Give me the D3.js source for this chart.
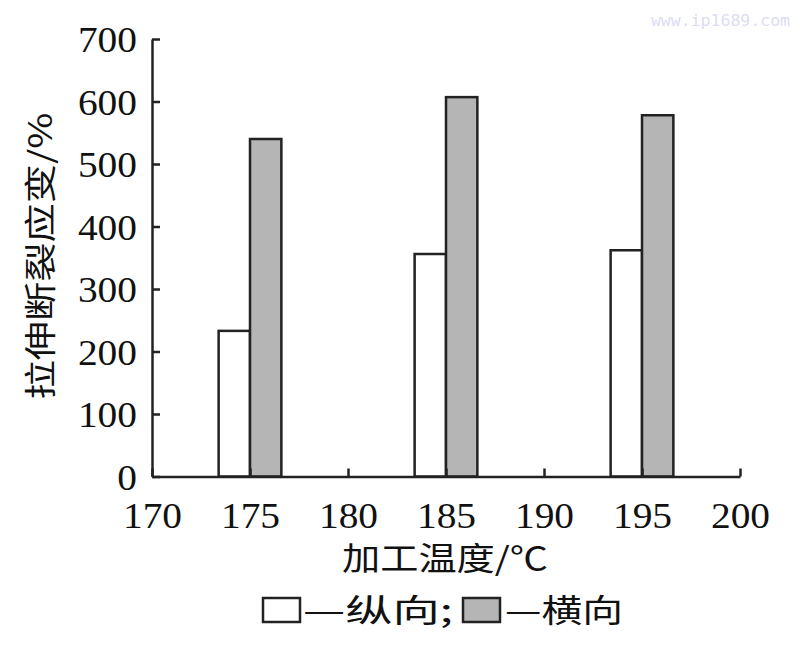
<!DOCTYPE html>
<html><head><meta charset="utf-8">
<script src="https://cdn.jsdelivr.net/npm/d3@7"></script>
<style>body{margin:0;background:#fff;} svg{display:block;}</style>
</head><body>
<svg id="c" width="800" height="651"></svg>
<script>
const temps = [175, 185, 195];
const longitudinal = [233, 356, 362];   // 纵向
const transverse = [540, 607, 578];     // 横向
const xTicks = [170, 175, 180, 185, 190, 195, 200];
const yTicks = [0, 100, 200, 300, 400, 500, 600, 700];
const seriesNames = ["纵向", "横向"];
const barWidthUnits = 1.6;

const svg = d3.select("#c");
const x = d3.scaleLinear().domain([170, 200]).range([152, 740]);
const y = d3.scaleLinear().domain([0, 700]).range([476.5, 39]);
const serif = "'Liberation Serif','Times New Roman',serif";
const cjk = "'Noto Sans CJK SC','Liberation Serif',serif";
const ink = "#222";

// watermark
svg.append("text").attr("x", 790).attr("y", 26).attr("text-anchor", "end")
  .attr("font-family", "'DejaVu Sans Mono',monospace").attr("font-size", 16.5)
  .attr("fill", "#dcdcf4").text("www.ip1689.com");

// bars
const g = svg.append("g");
g.selectAll("rect.l").data(temps).join("rect").attr("class", "l")
  .attr("x", (d) => x(d - barWidthUnits)).attr("width", (d) => x(d) - x(d - barWidthUnits))
  .attr("y", (d, i) => y(longitudinal[i])).attr("height", (d, i) => y(0) - y(longitudinal[i]))
  .attr("fill", "#fff").attr("stroke", ink).attr("stroke-width", 2.5);
g.selectAll("rect.t").data(temps).join("rect").attr("class", "t")
  .attr("x", (d) => x(d)).attr("width", (d) => x(d + barWidthUnits) - x(d))
  .attr("y", (d, i) => y(transverse[i])).attr("height", (d, i) => y(0) - y(transverse[i]))
  .attr("fill", "#b5b5b5").attr("stroke", ink).attr("stroke-width", 2.5);

// axes
const ya = svg.append("g").attr("transform", `translate(${x(170)},0)`)
  .call(d3.axisLeft(y).tickValues(yTicks).tickFormat(d3.format("d")).tickSizeInner(-8).tickSizeOuter(0).tickPadding(15));
const xa = svg.append("g").attr("transform", `translate(0,${y(0)})`)
  .call(d3.axisBottom(x).tickValues(xTicks).tickFormat(d3.format("d")).tickSizeInner(-8).tickSizeOuter(0).tickPadding(26));
[ya, xa].forEach(a => {
  a.select(".domain").attr("stroke", ink).attr("stroke-width", 2.5);
  a.selectAll(".tick line").attr("stroke", ink).attr("stroke-width", 2.5);
  a.selectAll(".tick text").attr("font-family", serif).attr("font-size", 36).attr("fill", "#111")
    .attr("textLength", function () { return 19.7 * this.textContent.length; })
    .attr("lengthAdjust", "spacingAndGlyphs");
});
ya.selectAll(".tick text").attr("dy", "0.35em");

// axis titles
svg.append("text").attr("transform", "translate(52,256) rotate(-90)").attr("text-anchor", "middle")
  .attr("font-family", cjk).attr("font-size", 32).attr("fill", "#111")
  .attr("textLength", 287).attr("lengthAdjust", "spacingAndGlyphs").text("拉伸断裂应变/%");
svg.append("text").attr("x", 445).attr("y", 570).attr("text-anchor", "middle")
  .attr("font-family", cjk).attr("font-size", 32).attr("fill", "#111")
  .attr("textLength", 206).attr("lengthAdjust", "spacingAndGlyphs").text("加工温度/℃");

// legend
const leg = svg.append("g");
leg.append("rect").attr("x", 263).attr("y", 598).attr("width", 37).attr("height", 24)
  .attr("fill", "#fff").attr("stroke", ink).attr("stroke-width", 2.5);
leg.append("text").attr("x", 303).attr("y", 622).attr("font-family", cjk).attr("font-size", 32).attr("fill", "#111")
  .attr("textLength", 150).attr("lengthAdjust", "spacingAndGlyphs").text("—" + seriesNames[0] + ";");
leg.append("rect").attr("x", 463).attr("y", 598).attr("width", 37).attr("height", 24)
  .attr("fill", "#b5b5b5").attr("stroke", ink).attr("stroke-width", 2.5);
leg.append("text").attr("x", 505).attr("y", 622).attr("font-family", cjk).attr("font-size", 32).attr("fill", "#111")
  .attr("textLength", 118).attr("lengthAdjust", "spacingAndGlyphs").text("—" + seriesNames[1]);
</script>
</body></html>
